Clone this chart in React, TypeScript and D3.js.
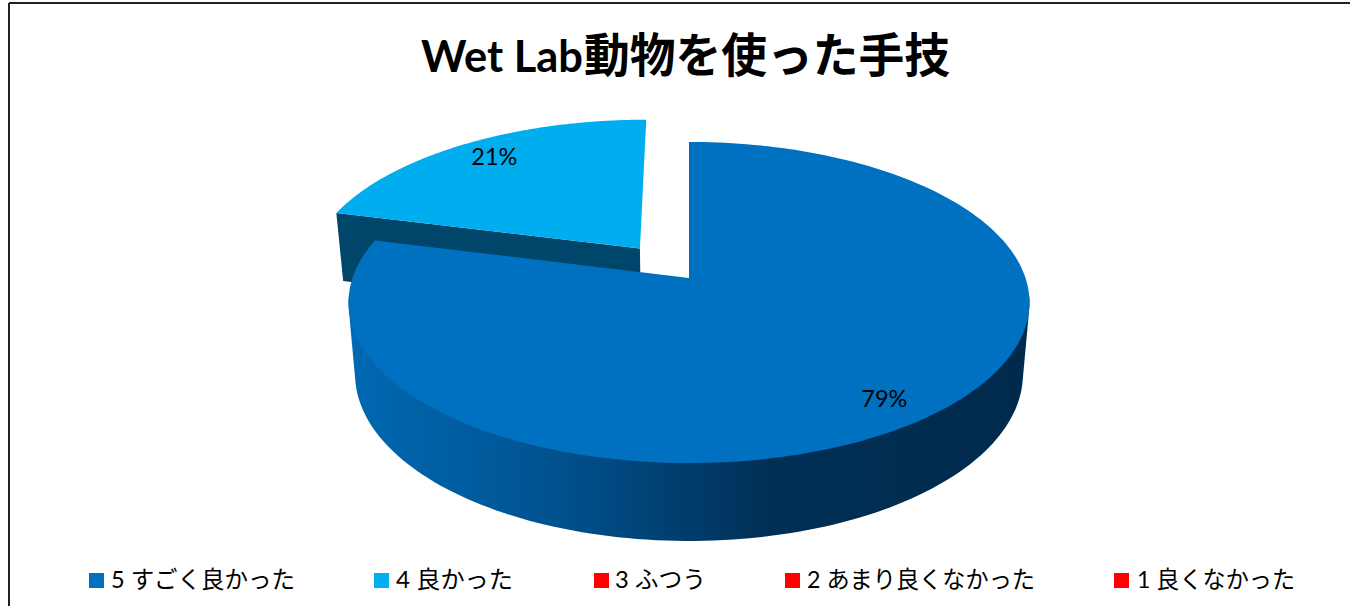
import React from "react";
import * as d3 from "d3";

const categories = ["5 すごく良かった", "4 良かった", "3 ふつう", "2 あまり良くなかった", "1 良くなかった"];
const values = [79, 21, 0, 0, 0];
const percentLabels = ["79%", "21%", "", "", ""];
const explode = [0, 0.245, 0, 0, 0];
const colors = ["#0070C0", "#00AEEF", "#FF0000", "#FF0000", "#FF0000"];
const legendColors = ["#0070C0", "#00B0F0", "#FF0000", "#FF0000", "#FF0000"];
const sideColors = ["url(#sideGrad)", "#00466B", "#800000", "#800000", "#800000"];
const legendX = [89, 374, 594, 785, 1114];
const legendTextX = [111, 396, 615, 807, 1137];
const legendTextW = [184, 117, 91, 228, 158];
const labelRadius = [0.85, 0.82, 0, 0, 0];
const labelDy = [11.5, 4, 0, 0, 0];
const titleLatin = "Wet Lab";
const titleCjk = "動物を使った手技";

// Projective model of the tilted disc: top plane and bottom plane
const cx = 689;
const k = -0.1526;
const planes = [
  { y0: 278, a: 156.8, b: 336.5 },
  { y0: 348.6, a: 163, b: 330 },
];
const project = (u: number, v: number, level: number): [number, number] => {
  const p = planes[level];
  const d = 1 + k * v;
  return [cx + (p.b * u) / d, p.y0 + (p.a * v) / d];
};

const pie = d3.pie<number>().sort(null).value((d) => d);
const arcs = pie(values);
const line = d3.line();

function offsetOf(i: number) {
  const mid = (arcs[i].startAngle + arcs[i].endAngle) / 2;
  return [Math.sin(mid) * explode[i], -Math.cos(mid) * explode[i]];
}
function rimPoints(i: number, level: number, n = 200): [number, number][] {
  const [ox, oy] = offsetOf(i);
  const t = d3.scaleLinear().domain([0, n]).range([arcs[i].startAngle, arcs[i].endAngle]);
  return d3.range(n + 1).map((j) => project(Math.sin(t(j)) + ox, -Math.cos(t(j)) + oy, level));
}
function frontRim(i: number, level: number, n = 200): [number, number][] {
  const t = d3.scaleLinear().domain([0, n]).range([arcs[i].startAngle, arcs[i].endAngle]);
  return d3
    .range(n + 1)
    .map((j) => t(j))
    .filter((a) => -Math.cos(a) >= 0.1)
    .map((a) => project(Math.sin(a), -Math.cos(a), level));
}
function apex(i: number, level: number): [number, number] {
  const [ox, oy] = offsetOf(i);
  return project(ox, oy, level);
}
const topPath = (i: number) => line([apex(i, 0), ...rimPoints(i, 0)])! + "Z";
// Body of the whole disc: convex hull of its front rim on both planes
const bodyPath = (i: number) => {
  const hull = d3.polygonHull([...frontRim(i, 0), ...frontRim(i, 1)]);
  return hull ? line(hull)! + "Z" : "";
};
// Cut face of an exploded slice, along its start radius
const cutFacePath = (i: number) => {
  const top = rimPoints(i, 0);
  const bot = rimPoints(i, 1);
  return line([apex(i, 0), top[0], bot[0], apex(i, 1)])! + "Z";
};
function labelPos(i: number): [number, number] {
  const [ox, oy] = offsetOf(i);
  const mid = (arcs[i].startAngle + arcs[i].endAngle) / 2;
  const r = labelRadius[i];
  return project(Math.sin(mid) * r + ox, -Math.cos(mid) * r + oy, 0);
}

const latin = "Lato, 'Noto Sans CJK JP', sans-serif";
const cjk = "'Noto Sans CJK JP', sans-serif";
const visible = values.map((v, i) => (v > 0 ? i : -1)).filter((i) => i >= 0);
const drawOrder = [...visible].reverse();

export default function App() {
  return (
    <svg
      width={1350}
      height={606}
      style={{ position: "absolute", left: 0, top: 0, display: "block", background: "#fff" }}
    >
      <defs>
        <linearGradient id="sideGrad" gradientUnits="userSpaceOnUse" x1={350} y1={0} x2={1030} y2={0}>
          <stop offset="0" stopColor="#0069B3" />
          <stop offset="0.3" stopColor="#00528F" />
          <stop offset="0.62" stopColor="#002F55" />
          <stop offset="1" stopColor="#002A4C" />
        </linearGradient>
      </defs>
      <path d="M9,3H1350M9,3V606" fill="none" stroke="#222" strokeWidth={2} />
      <text
        x={421}
        y={72}
        fontFamily={latin}
        fontWeight={700}
        fontSize={44}
        textLength={162}
        lengthAdjust="spacingAndGlyphs"
        fill="#000"
      >
        {titleLatin}
      </text>
      <text
        x={584}
        y={72}
        fontFamily={cjk}
        fontWeight={700}
        fontSize={47}
        textLength={366}
        lengthAdjust="spacingAndGlyphs"
        fill="#000"
      >
        {titleCjk}
      </text>
      {drawOrder.map((i) => (
        <g key={i}>
          {explode[i] > 0 ? (
            <path d={cutFacePath(i)} fill={sideColors[i]} />
          ) : (
            <path d={bodyPath(i)} fill={sideColors[i]} />
          )}
          <path d={topPath(i)} fill={colors[i]} />
        </g>
      ))}
      {visible.map((i) => {
        const [x, y] = labelPos(i);
        return (
          <text
            key={i}
            x={x}
            y={y + labelDy[i]}
            textAnchor="middle"
            fontFamily={latin}
            fontSize={24}
            textLength={46}
            lengthAdjust="spacingAndGlyphs"
            fill="#000"
          >
            {percentLabels[i]}
          </text>
        );
      })}
      {categories.map((c, i) => (
        <g key={c}>
          <rect x={legendX[i]} y={573} width={15} height={15} fill={legendColors[i]} />
          <text
            x={legendTextX[i]}
            y={588}
            fontFamily={latin}
            fontSize={24}
            textLength={legendTextW[i]}
            lengthAdjust="spacingAndGlyphs"
            fill="#000"
          >
            {c}
          </text>
        </g>
      ))}
    </svg>
  );
}
